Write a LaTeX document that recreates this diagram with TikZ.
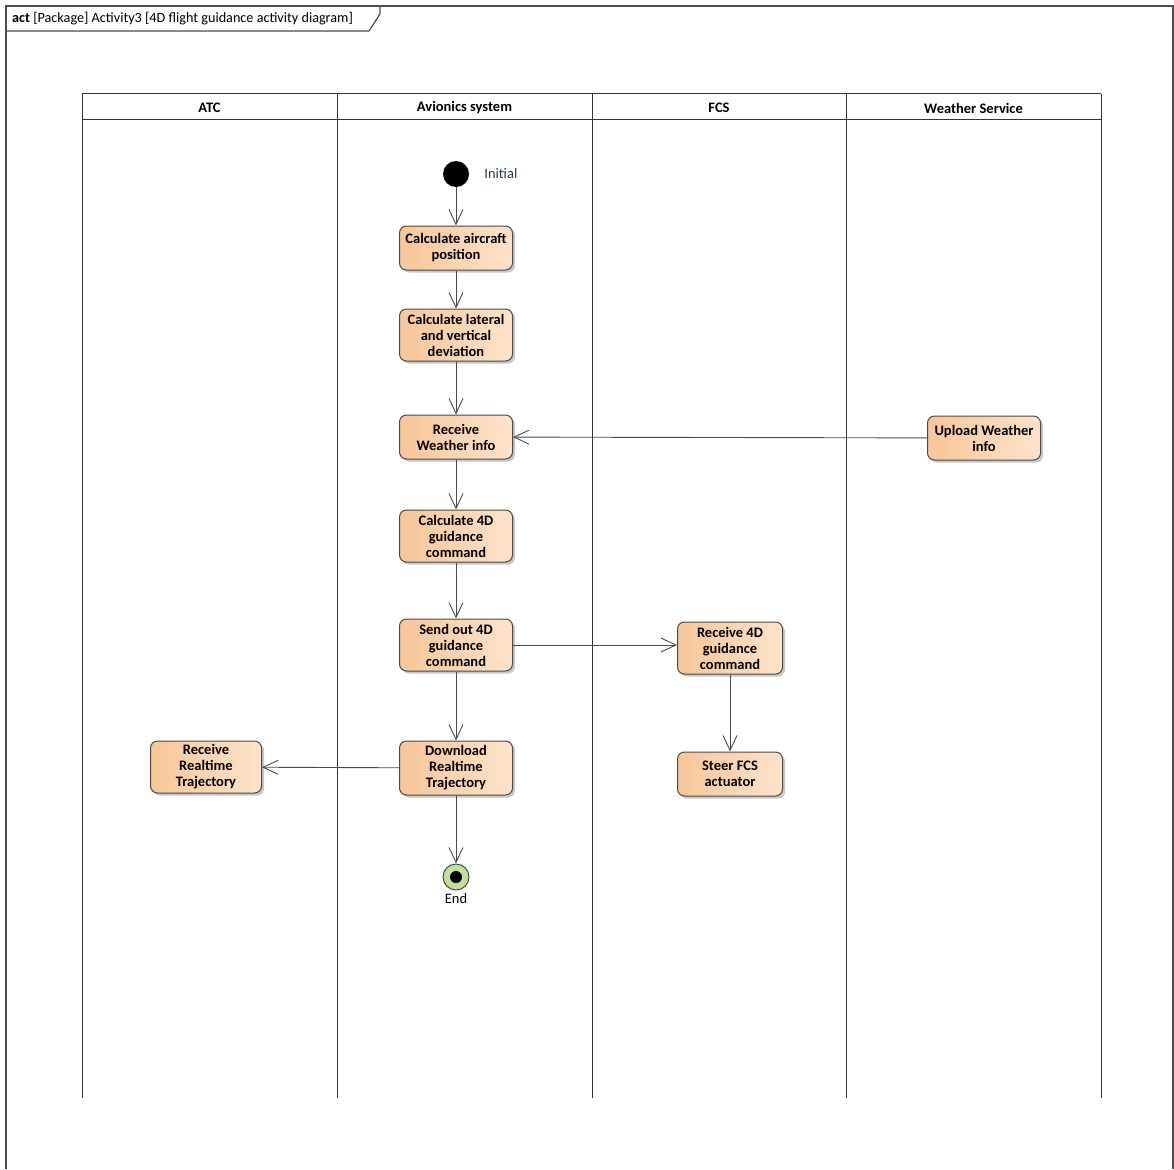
\documentclass[tikz,border=0pt]{standalone}
\usepackage{fontspec}
\setmainfont{Carlito}
\usetikzlibrary{arrows.meta,shadows}

\definecolor{actleft}{HTML}{F8C698}
\definecolor{actright}{HTML}{FDE3CB}
\definecolor{actborder}{HTML}{4A4A4A}
\definecolor{laneline}{HTML}{333333}
\definecolor{endgreen}{HTML}{C3DF9E}
\definecolor{initlabel}{HTML}{2B3A55}

\begin{document}
\begin{tikzpicture}[x=1pt, y=-1pt,
    action/.style={draw=actborder, line width=1pt, rounded corners=7pt,
        left color=actleft, right color=actright,
        font=\fontsize{14.5}{16}\selectfont\bfseries, align=center,
        minimum width=113pt, minimum height=44pt, inner xsep=1pt, inner ysep=3pt,
        drop shadow={shadow xshift=2.5pt, shadow yshift=-2.5pt, opacity=0.22, fill=black}},
    tall/.style={minimum height=52pt},
    flow/.style={draw=actborder, line width=0.9pt,
        -{Straight Barb[length=15pt, width=14pt, line width=0.9pt]}},
    lane/.style={draw=laneline, line width=1pt},
    lanehead/.style={font=\fontsize{14.5}{16}\selectfont\bfseries},
    frame/.style={draw=black!70, line width=1.2pt}
]
    \useasboundingbox (0,0) rectangle (1174,1169);

    % Draw the diagram frame and its title tab
    \draw[frame] (6,1169) -- (6,6) -- (1173,6) -- (1173,1169);
    \draw[frame] (6,31) -- (369,31) -- (380,14) -- (380,6);
    \node[anchor=west, inner sep=0pt, font=\fontsize{14.2}{16}\selectfont] (title) at (12,19)
        {\textbf{act} [Package] Activity3 [4D flight guidance activity diagram]};

    % Draw the swimlanes
    \draw[lane] (82,94) -- (1101,94);
    \draw[lane] (82,120) -- (1101,120);
    \foreach \lx in {82,337,592,846,1101}
        \draw[lane] (\lx,94) -- (\lx,1098);

    % Lane names
    \node[lanehead] (atc) at (209.5,108) {ATC};
    \node[lanehead] (avionics) at (464.5,108) {Avionics system};
    \node[lanehead] (fcs) at (719,108) {FCS};
    \node[lanehead] (weather) at (973.5,108) {Weather Service};

    % Initial and final nodes
    \node[circle, fill=black, minimum size=26pt, inner sep=0pt,
        label={[label distance=15pt, inner sep=0pt, text=initlabel, font=\fontsize{14.5}{16}\selectfont]right:Initial}] (init) at (456,174) {};
    \node[circle, draw=actborder, line width=1pt, fill=endgreen, minimum size=26pt, inner sep=0pt,
        label={[label distance=3pt, inner sep=0pt, font=\fontsize{14.5}{16}\selectfont]below:End}] (final) at (456,877) {};
    \fill[black] (final.center) circle (6pt);

    % Actions
    \node[action] (calcpos) at (456,248) {Calculate aircraft\\position};
    \node[action, tall] (calcdev) at (456,335) {Calculate lateral\\and vertical\\deviation};
    \node[action] (rcvwx) at (456,437) {Receive\\Weather info};
    \node[action, tall] (calc4d) at (456,536) {Calculate 4D\\guidance\\command};
    \node[action, tall] (send4d) at (456,645) {Send out 4D\\guidance\\command};
    \node[action, tall, minimum height=54pt] (dltraj) at (456,768) {Download\\Realtime\\Trajectory};
    \node[action, tall, minimum width=111pt] (rcvtraj) at (206,767) {Receive\\Realtime\\Trajectory};
    \node[action, tall, minimum width=105pt] (rcv4d) at (730,648) {Receive 4D\\guidance\\command};
    \node[action, minimum width=105pt] (steer) at (730,774) {Steer FCS\\actuator};
    \node[action] (upwx) at (984,438) {Upload Weather\\info};

    % Control flows
    \draw[flow] (init) -- (calcpos);
    \draw[flow] (calcpos) -- (calcdev);
    \draw[flow] (calcdev) -- (rcvwx);
    \draw[flow] (upwx) -- (rcvwx);
    \draw[flow] (rcvwx) -- (calc4d);
    \draw[flow] (calc4d) -- (send4d);
    \draw[flow] (send4d.east) -- (send4d.east -| rcv4d.west);
    \draw[flow] (send4d) -- (dltraj);
    \draw[flow] (dltraj) -- (rcvtraj);
    \draw[flow] (rcv4d) -- (steer);
    \draw[flow] (dltraj) -- (final);

\end{tikzpicture}
\end{document}
